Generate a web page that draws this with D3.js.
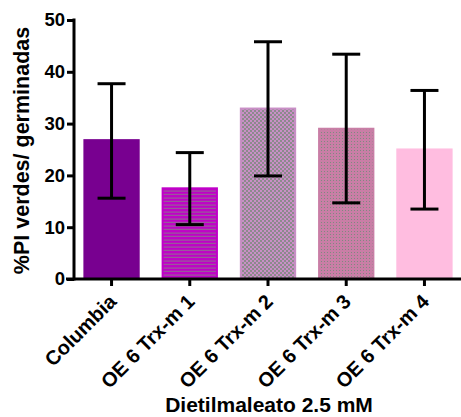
<!DOCTYPE html>
<html>
<head>
<meta charset="utf-8">
<script src="https://cdn.jsdelivr.net/npm/d3@7"></script>
<style>
  body { margin: 0; background: #fff; }
  text { font-family: "Liberation Sans", Arial, sans-serif; font-weight: bold; }
</style>
</head>
<body>
<div id="graph"></div>
<script>
(function(){
	"use strict";

	// data
	var categories = ["Columbia", "OE 6 Trx-m 1", "OE 6 Trx-m 2", "OE 6 Trx-m 3", "OE 6 Trx-m 4"];
	var means = [27.0, 17.7, 33.1, 29.2, 25.2];
	var upper = [37.7, 24.4, 45.8, 43.4, 36.4];
	var lower = [15.6, 10.5, 19.9, 14.7, 13.5];
	var yTicks = [0, 10, 20, 30, 40, 50];

	var width = 461, height = 417;
	var left = 74, right = 461, top = 20, bottom = 279;

	var svg = d3.select("#graph").append("svg")
		.attr("width", width)
		.attr("height", height);

	// patterns for the bars
	var defs = svg.append("defs");
	var p1 = defs.append("pattern").attr("id", "lines")
		.attr("patternUnits", "userSpaceOnUse").attr("width", 4).attr("height", 3.5);
	p1.append("rect").attr("width", 4).attr("height", 3.5).attr("fill", "#c000c8");
	p1.append("rect").attr("y", 1.5).attr("width", 4).attr("height", 1).attr("fill", "#8a7a8a");

	var p2 = defs.append("pattern").attr("id", "checks")
		.attr("patternUnits", "userSpaceOnUse").attr("width", 4).attr("height", 4);
	p2.append("rect").attr("width", 4).attr("height", 4).attr("fill", "#c98fc6");
	p2.append("rect").attr("width", 2).attr("height", 2).attr("fill", "#8c8a8c");
	p2.append("rect").attr("x", 2).attr("y", 2).attr("width", 2).attr("height", 2).attr("fill", "#8c8a8c");

	var p3 = defs.append("pattern").attr("id", "dots")
		.attr("patternUnits", "userSpaceOnUse").attr("width", 3).attr("height", 3);
	p3.append("rect").attr("width", 3).attr("height", 3).attr("fill", "#c97ea6");
	p3.append("rect").attr("width", 1).attr("height", 1).attr("fill", "#7f8a80");

	var baseColors = ["#780090", "#c000c8", "#c98fc6", "#c97ea6", "#ffbde0"];
	var fills = ["#780090", "url(#lines)", "url(#checks)", "url(#dots)", "#ffbde0"];

	var x = d3.scaleBand()
		.domain(categories)
		.range([left + 0, left + 388])
		.paddingInner(0.28)
		.paddingOuter(0.12);

	var y = d3.scaleLinear()
		.domain([0, 50])
		.range([bottom, top]);

	var g = svg.append("g");

	// bars: a base rect with a thin lighter frame, pattern inset
	g.selectAll("rect.base")
		.data(categories)
		.enter()
		.append("rect")
		.attr("class", "base")
		.attr("x", function(d){ return x(d); })
		.attr("y", function(d, i){ return y(means[i]); })
		.attr("width", x.bandwidth())
		.attr("height", function(d, i){ return y(0) - y(means[i]); })
		.attr("fill", function(d, i){ return baseColors[i]; });

	g.selectAll("rect.fill")
		.data(categories)
		.enter()
		.append("rect")
		.attr("class", "fill")
		.attr("x", function(d){ return x(d) + 2; })
		.attr("y", function(d, i){ return y(means[i]) + 2; })
		.attr("width", x.bandwidth() - 4)
		.attr("height", function(d, i){ return y(0) - y(means[i]) - 2; })
		.attr("fill", function(d, i){ return fills[i]; });

	// error bars
	var cap = 14;
	var eb = g.selectAll("g.err")
		.data(categories)
		.enter()
		.append("g")
		.attr("class", "err")
		.attr("stroke", "#000")
		.attr("stroke-width", 3);
	eb.append("line")
		.attr("x1", function(d){ return x(d) + x.bandwidth() / 2; })
		.attr("x2", function(d){ return x(d) + x.bandwidth() / 2; })
		.attr("y1", function(d, i){ return y(upper[i]); })
		.attr("y2", function(d, i){ return y(lower[i]); });
	eb.append("line")
		.attr("x1", function(d){ return x(d) + x.bandwidth() / 2 - cap; })
		.attr("x2", function(d){ return x(d) + x.bandwidth() / 2 + cap; })
		.attr("y1", function(d, i){ return y(upper[i]); })
		.attr("y2", function(d, i){ return y(upper[i]); });
	eb.append("line")
		.attr("x1", function(d){ return x(d) + x.bandwidth() / 2 - cap; })
		.attr("x2", function(d){ return x(d) + x.bandwidth() / 2 + cap; })
		.attr("y1", function(d, i){ return y(lower[i]); })
		.attr("y2", function(d, i){ return y(lower[i]); });

	// y axis
	var yAxis = svg.append("g")
		.attr("transform", "translate(" + left + ",0)")
		.call(d3.axisLeft(y).tickValues(yTicks).tickSize(7).tickPadding(2));
	yAxis.select(".domain").remove();
	yAxis.append("line")
		.attr("x1", 0).attr("x2", 0)
		.attr("y1", top - 1.5).attr("y2", bottom + 1.5)
		.attr("stroke", "#000").attr("stroke-width", 3);
	yAxis.selectAll(".tick line").attr("stroke-width", 3);
	yAxis.selectAll(".tick text")
		.attr("font-size", 18.5)
		.attr("fill", "#000")
		.attr("font-family", "Liberation Sans, Arial, sans-serif");

	// x axis
	var xAxis = svg.append("g")
		.attr("transform", "translate(0," + bottom + ")")
		.call(d3.axisBottom(x).tickSize(7).tickFormat(""));
	xAxis.select(".domain").remove();
	xAxis.append("line")
		.attr("x1", left - 8).attr("x2", right)
		.attr("y1", 0).attr("y2", 0)
		.attr("stroke", "#000").attr("stroke-width", 3);
	xAxis.selectAll(".tick line").attr("stroke-width", 3);

	// rotated category labels
	svg.append("g").selectAll("text")
		.data(categories)
		.enter()
		.append("text")
		.attr("transform", function(d){
			return "translate(" + (x(d) + x.bandwidth() / 2 + 6) + "," + (bottom + 24) + ") rotate(-45)";
		})
		.attr("text-anchor", "end")
		.attr("font-size", 20)
		.text(function(d){ return d; });

	// axis titles
	svg.append("text")
		.attr("transform", "translate(29," + ((top + bottom) / 2 + 1) + ") rotate(-90)")
		.attr("text-anchor", "middle")
		.attr("font-size", 21.5)
		.text("%PI verdes/ germinadas");

	svg.append("text")
		.attr("x", 269)
		.attr("y", 412)
		.attr("text-anchor", "middle")
		.attr("font-size", 21)
		.text("Dietilmaleato 2.5 mM");
})();
</script>
</body>
</html>
